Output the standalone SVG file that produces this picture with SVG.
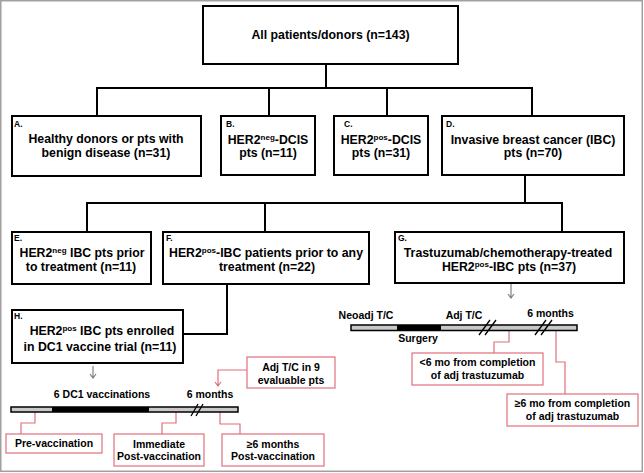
<svg xmlns="http://www.w3.org/2000/svg" width="644" height="473" viewBox="0 0 644 473">
<style>
.box{fill:#fff;stroke:#000;stroke-width:2}
.rbox{fill:#fff;stroke:#e0707a;stroke-width:1.2}
.conn{fill:none;stroke:#000;stroke-width:2}
.rconn{fill:none;stroke:#e0707a;stroke-width:1.2}
.garr{fill:none;stroke:#808080;stroke-width:1.2}
.t{font-family:"Liberation Sans",Arial,sans-serif;font-weight:bold;font-size:12.3px;fill:#000;text-anchor:middle}
.lbl{font-family:"Liberation Sans",Arial,sans-serif;font-weight:bold;font-size:8.5px;fill:#000}
.s{font-family:"Liberation Sans",Arial,sans-serif;font-weight:bold;font-size:10.5px;fill:#000;text-anchor:middle}
.sup{font-size:8px}
.bar{fill:#c8c8c8;stroke:#000;stroke-width:1.5}
.blk{fill:#000}
.sl{stroke:#000;stroke-width:1.3}
</style>
<rect x="0.75" y="0.75" width="641.5" height="470.5" fill="#fff" stroke="#a0a0a0" stroke-width="1.5"/>

<g id="connectors">
<path class="conn" d="M326,64 V88 M97,116 V88 H532 V116 M269,88 V116 M387,88 V116"/>
<path class="conn" d="M525,175 V203 M87,232 V203 H562 V232 M265,203 V232"/>
<path class="conn" d="M227,284 V334 H183"/>
<path class="garr" d="M93,366 V378 M90,374 L93,378 L96,374"/>
<path class="garr" d="M511,284 V298 M508,294 L511,298 L514,294"/>
<path class="rconn" d="M247,370 H218 V386 M215,382 L218,386 L221,382"/>
<path class="rconn" d="M35,412 V423 H21 V434"/>
<path class="rconn" d="M176,412 V423 H162 V434"/>
<path class="rconn" d="M220,412 V424 H240 V434"/>
<path class="rconn" d="M509,331 V342 H494 V353"/>
<path class="rconn" d="M556,331 V362 H565 V394"/>
</g>

<g id="top">
<rect class="box" x="203" y="6" width="255" height="58"/>
<text class="t" x="330.5" y="39">All patients/donors (n=143)</text>
</g>

<g id="A">
<rect class="box" x="12" y="116" width="189" height="60"/>
<text class="lbl" x="14" y="127">A.</text>
<text class="t" x="106" y="143">Healthy donors or pts with</text>
<text class="t" x="106" y="156.5">benign disease (n=31)</text>
</g>

<g id="B">
<rect class="box" x="221" y="116" width="94" height="59"/>
<text class="lbl" x="226" y="127">B.</text>
<text class="t" x="268" y="143.5">HER2<tspan class="sup" dy="-4">neg</tspan><tspan dy="4">-DCIS</tspan></text>
<text class="t" x="268" y="157">pts (n=11)</text>
</g>

<g id="C">
<rect class="box" x="334" y="116" width="94" height="59"/>
<text class="lbl" x="344" y="127">C.</text>
<text class="t" x="381" y="143.5">HER2<tspan class="sup" dy="-4">pos</tspan><tspan dy="4">-DCIS</tspan></text>
<text class="t" x="381" y="157">pts (n=31)</text>
</g>

<g id="D">
<rect class="box" x="442" y="116" width="182" height="59"/>
<text class="lbl" x="446" y="127">D.</text>
<text class="t" x="533" y="143.5">Invasive breast cancer (IBC)</text>
<text class="t" x="533" y="157">pts (n=70)</text>
</g>

<g id="E">
<rect class="box" x="12" y="232" width="139" height="52"/>
<text class="lbl" x="14" y="241">E.</text>
<text class="t" x="82" y="257">HER2<tspan class="sup" dy="-4">neg</tspan><tspan dy="4"> IBC pts prior</tspan></text>
<text class="t" x="81" y="271">to treatment (n=11)</text>
</g>

<g id="F">
<rect class="box" x="163" y="232" width="206" height="52"/>
<text class="lbl" x="166" y="241">F.</text>
<text class="t" x="266" y="257">HER2<tspan class="sup" dy="-4">pos</tspan><tspan dy="4">-IBC patients prior to any</tspan></text>
<text class="t" x="267" y="271">treatment (n=22)</text>
</g>

<g id="G">
<rect class="box" x="395" y="232" width="229" height="51"/>
<text class="lbl" x="398" y="241">G.</text>
<text class="t" x="508" y="257">Trastuzumab/chemotherapy-treated</text>
<text class="t" x="509" y="271">HER2<tspan class="sup" dy="-4">pos</tspan><tspan dy="4">-IBC pts (n=37)</tspan></text>
</g>

<g id="H">
<rect class="box" x="12" y="310" width="171" height="53"/>
<text class="lbl" x="14" y="318.5">H.</text>
<text class="t" x="102" y="335">HER2<tspan class="sup" dy="-4">pos</tspan><tspan dy="4"> IBC pts enrolled</tspan></text>
<text class="t" x="100" y="351">in DC1 vaccine trial (n=11)</text>
</g>

<g id="timeline-H">
<rect class="bar" x="11" y="407" width="227" height="5"/>
<rect class="blk" x="52" y="407" width="97" height="5"/>
<line class="sl" x1="191" y1="416" x2="198" y2="404"/>
<line class="sl" x1="196" y1="416" x2="203" y2="404"/>
<text class="s" x="102" y="398">6 DC1 vaccinations</text>
<text class="s" x="210" y="398">6 months</text>
</g>

<g id="timeline-G">
<rect class="bar" x="351" y="325" width="226" height="5.5"/>
<rect class="blk" x="397" y="325" width="44" height="5.5"/>
<line class="sl" x1="479" y1="335" x2="490" y2="320"/>
<line class="sl" x1="485" y1="335" x2="496" y2="320"/>
<line class="sl" x1="535" y1="335" x2="546" y2="320"/>
<line class="sl" x1="541" y1="335" x2="552" y2="320"/>
<text class="s" x="366" y="319">Neoadj T/C</text>
<text class="s" x="464" y="319">Adj T/C</text>
<text class="s" x="550.5" y="317">6 months</text>
<text class="s" x="418" y="342">Surgery</text>
</g>

<g id="adj">
<rect class="rbox" x="247" y="357" width="88" height="31"/>
<text class="s" x="291" y="371">Adj T/C in 9</text>
<text class="s" x="291" y="384">evaluable pts</text>
</g>

<g id="pre">
<rect class="rbox" x="6" y="434" width="96" height="19"/>
<text class="s" x="54" y="447">Pre-vaccination</text>
</g>

<g id="immediate">
<rect class="rbox" x="114" y="434" width="90" height="32"/>
<text class="s" x="159" y="447.5">Immediate</text>
<text class="s" x="159" y="460">Post-vaccination</text>
</g>

<g id="ge6months">
<rect class="rbox" x="222" y="434" width="102" height="32"/>
<text class="s" x="273" y="447.5">≥6 months</text>
<text class="s" x="273" y="460">Post-vaccination</text>
</g>

<g id="lt6mo">
<rect class="rbox" x="412" y="353" width="131" height="32"/>
<text class="s" x="477.5" y="366">&lt;6 mo from completion</text>
<text class="s" x="477.5" y="379">of adj trastuzumab</text>
</g>

<g id="ge6mo">
<rect class="rbox" x="507" y="394" width="131" height="32"/>
<text class="s" x="572.5" y="407">≥6 mo from completion</text>
<text class="s" x="572.5" y="420">of adj trastuzumab</text>
</g>
</svg>
